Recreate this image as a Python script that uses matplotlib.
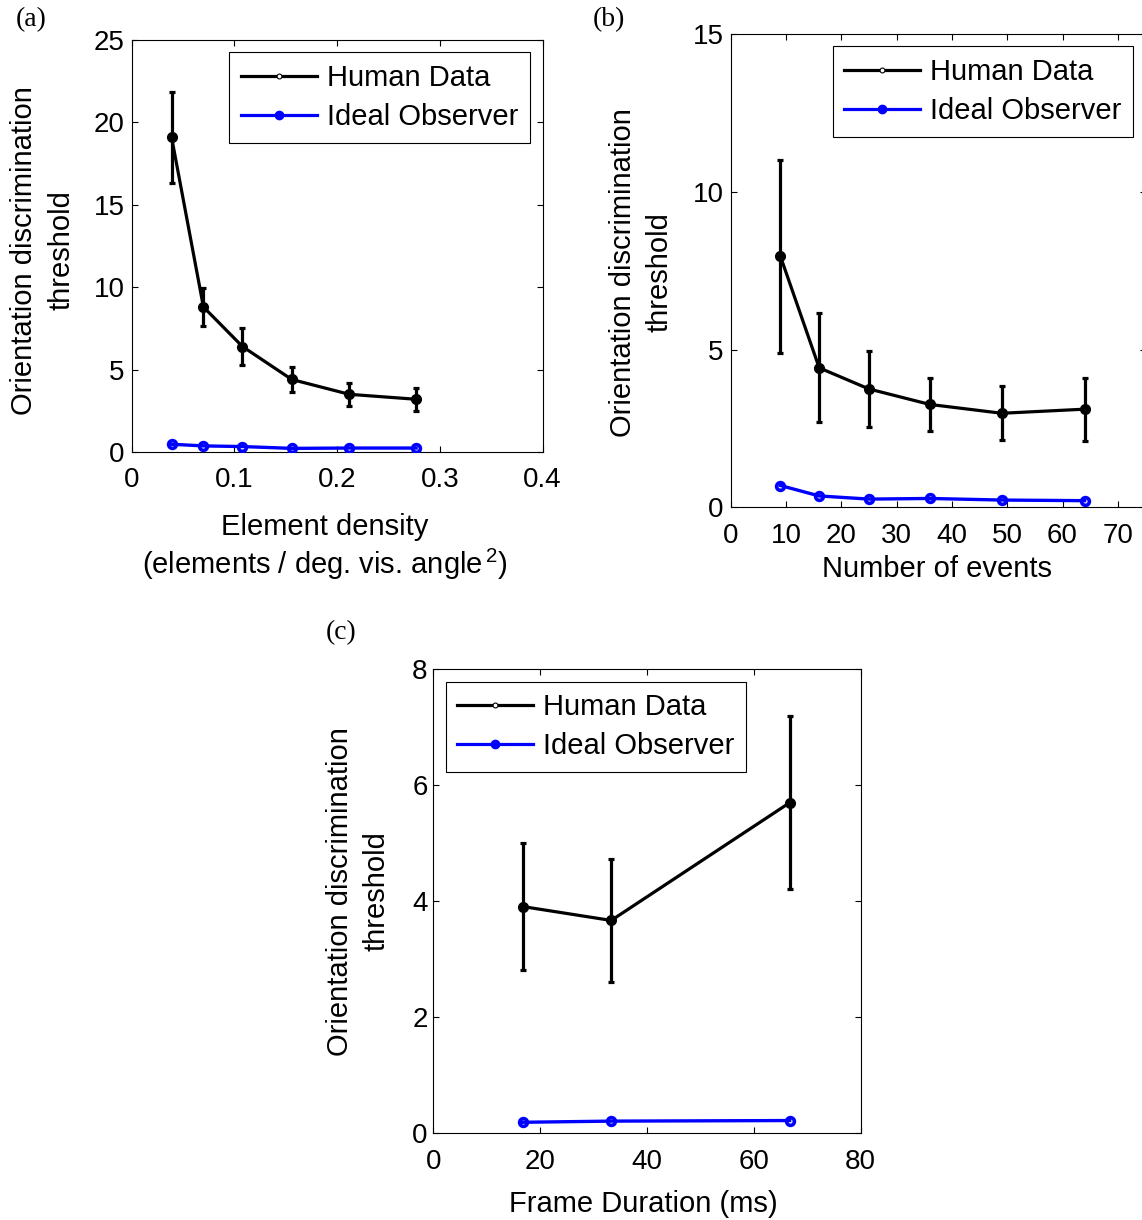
"""
Пороги различения ориентации: человек против идеального наблюдателя.
Три панели: плотность элементов, число событий, длительность кадра.
"""

import matplotlib

matplotlib.use("Agg")

import matplotlib.pyplot as plt
from matplotlib.lines import Line2D

plt.rcParams["font.family"] = ["Liberation Sans", "DejaVu Sans"]
plt.rcParams["mathtext.fontset"] = "custom"
plt.rcParams["mathtext.rm"] = "Liberation Sans"
plt.rcParams["mathtext.it"] = "Liberation Sans"

# (a) плотность элементов
density = [0.039, 0.070, 0.108, 0.156, 0.212, 0.277]
human_a = [19.1, 8.8, 6.4, 4.4, 3.5, 3.2]
err_a = [2.75, 1.15, 1.1, 0.77, 0.7, 0.7]
ideal_a = [0.47, 0.37, 0.33, 0.22, 0.24, 0.24]

# (b) число событий
n_events = [9, 16, 25, 36, 49, 64]
human_b = [7.95, 4.42, 3.75, 3.26, 2.98, 3.11]
err_b = [3.05, 1.73, 1.2, 0.85, 0.85, 1.0]
ideal_b = [0.69, 0.36, 0.26, 0.28, 0.23, 0.21]

# (c) длительность кадра, мс
frame_ms = [16.7, 33.3, 66.7]
human_c = [3.91, 3.67, 5.70]
err_c = [1.09, 1.06, 1.49]
ideal_c = [0.19, 0.21, 0.22]

ticks_a_x = [0, 0.1, 0.2, 0.3, 0.4]
ticklabels_a_x = ["0", "0.1", "0.2", "0.3", "0.4"]
ticks_a_y = [0, 5, 10, 15, 20, 25]
ticks_b_x = [0, 10, 20, 30, 40, 50, 60, 70]
ticks_b_y = [0, 5, 10, 15]
ticks_c_x = [0, 20, 40, 60, 80]
ticks_c_y = [0, 2, 4, 6, 8]

W, H = 1142, 1220
YLABEL = "Orientation discrimination\nthreshold"
BLUE = "#0000ff"


def px_rect(left, top, right, bottom):
    """Прямоугольник осей в пикселях (от верхнего левого угла) -> доли фигуры."""
    return [left / W, 1 - bottom / H, (right - left) / W, (bottom - top) / H]


def draw_panel(fig, rect, x, human, err, ideal, xlim, ylim, xticks, yticks,
               xticklabels=None, ytick_pad=5, legend_loc="upper right"):
    ax = fig.add_axes(rect)

    ax.errorbar(x, human, yerr=err, color="black", lw=2.3, marker="o",
                ms=7, mfc="black", mec="black", elinewidth=2.3,
                capsize=2.5, capthick=2.3, zorder=3)
    # пустые кружки: там, где линия проходит насквозь, они выглядят залитыми
    ax.plot(x, ideal, color=BLUE, lw=2.4, marker="o", ms=5.6,
            mfc="none", mec=BLUE, mew=2.6, zorder=3)

    ax.set_xlim(*xlim)
    ax.set_ylim(*ylim)
    ax.set_xticks(xticks)
    if xticklabels is not None:
        ax.set_xticklabels(xticklabels)
    ax.set_yticks(yticks)

    ax.tick_params(direction="in", length=4.5, width=0.8, top=True,
                   right=True, labelsize=20)
    ax.tick_params(axis="x", pad=11)
    ax.tick_params(axis="y", pad=ytick_pad)
    for spine in ax.spines.values():
        spine.set_linewidth(0.8)

    # в легенде у человека маленький пустой кружок, у модели — заливной
    handles = [
        Line2D([], [], color="black", lw=2.3, marker="o", ms=3.5,
               mfc="white", mec="black", mew=0.8),
        Line2D([], [], color=BLUE, lw=2.3, marker="o", ms=6, mfc=BLUE,
               mec=BLUE),
    ]
    leg = ax.legend(handles, ["Human Data", "Ideal Observer"],
                    loc=legend_loc, fontsize=21, frameon=True, fancybox=False,
                    framealpha=1, edgecolor="black", handlelength=2.6,
                    handletextpad=0.35, borderpad=0.4, labelspacing=0.38,
                    borderaxespad=0.42)
    leg.get_frame().set_linewidth(0.8)
    return ax


fig = plt.figure(figsize=(W / 100, H / 100), dpi=100)

# (a)
ax_a = draw_panel(fig, px_rect(131.5, 40, 542.5, 452), density, human_a,
                  err_a, ideal_a, (0, 0.4), (0, 25), ticks_a_x, ticks_a_y,
                  xticklabels=ticklabels_a_x)
ax_a.set_ylabel(YLABEL, fontsize=21, linespacing=1.4)
ax_a.yaxis.set_label_coords(-0.137, 0.49)
ax_a.set_xlabel("Element density\n(elements / deg. vis. angle$^{\\,2}$)",
                fontsize=21, linespacing=1.22, va="top")
ax_a.xaxis.set_label_coords(0.471, -0.148)

# (b) — правая граница осей уходит чуть за край рисунка
ax_b = draw_panel(fig, px_rect(730.7, 34, 1145.5, 507.3), n_events, human_b,
                  err_b, ideal_b, (0, 75), (0, 15), ticks_b_x, ticks_b_y)
ax_b.set_ylabel(YLABEL, fontsize=21, linespacing=1.4)
ax_b.yaxis.set_label_coords(-0.138, 0.497)
ax_b.set_xlabel("Number of events", fontsize=21, va="top")
ax_b.xaxis.set_label_coords(0.497, -0.1)

# (c)
ax_c = draw_panel(fig, px_rect(433.3, 669.3, 860.7, 1133.3), frame_ms,
                  human_c, err_c, ideal_c, (0, 80), (0, 8), ticks_c_x,
                  ticks_c_y, ytick_pad=4, legend_loc="upper left")
ax_c.set_ylabel(YLABEL, fontsize=21, linespacing=1.4)
ax_c.yaxis.set_label_coords(-0.1, 0.522)
ax_c.set_xlabel("Frame Duration (ms)", fontsize=21, va="top")
ax_c.xaxis.set_label_coords(0.492, -0.122)

# подписи панелей
for label, px, py in [("(a)", 31, 20), ("(b)", 609, 20), ("(c)", 341, 633)]:
    fig.text(px / W, 1 - py / H, label, ha="center", va="center",
             fontsize=20, family=["Liberation Serif", "DejaVu Serif"])

fig.savefig("out.png", dpi=100)
plt.close(fig)
